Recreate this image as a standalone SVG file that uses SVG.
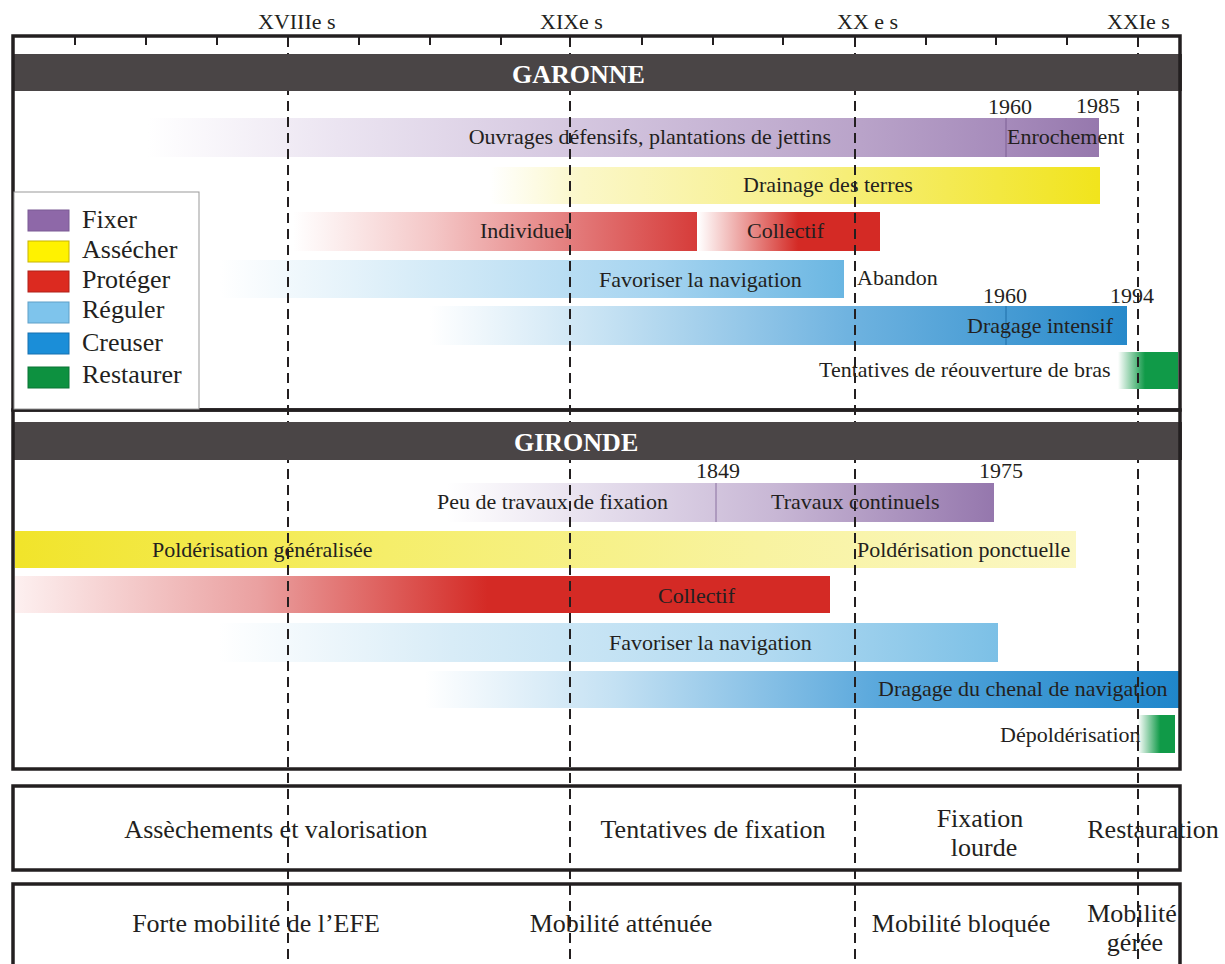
<svg xmlns="http://www.w3.org/2000/svg" width="1225" height="964" viewBox="0 0 1225 964">
<style>
text{font-family:"Liberation Serif","Times New Roman",serif;fill:#231f20}
.t{font-size:22px}
.lg{font-size:26px}
.bt{font-size:26px;text-anchor:middle}
.hd{font-size:26px;font-weight:bold;fill:#ffffff}
.frame{fill:none;stroke:#231f20;stroke-width:3.5}
.hdr{fill:#4a4546}
.dash{stroke:#231f20;stroke-width:2;stroke-dasharray:10 6;fill:none}
.tick{stroke:#231f20;stroke-width:2}
.div{stroke-width:1}
</style>
<defs>
<linearGradient id="gFix1"><stop offset="0" stop-color="#ffffff"/><stop offset="0.2" stop-color="#ebe4f1"/><stop offset="0.5" stop-color="#d0c1dc"/><stop offset="0.75" stop-color="#b9a3c9"/><stop offset="0.9" stop-color="#a68bbb"/><stop offset="1" stop-color="#9678ad"/></linearGradient>
<linearGradient id="gAss1"><stop offset="0" stop-color="#ffffff"/><stop offset="0.15" stop-color="#fbf7c8"/><stop offset="0.5" stop-color="#f7f08a"/><stop offset="1" stop-color="#f1e41c"/></linearGradient>
<linearGradient id="gInd"><stop offset="0" stop-color="#ffffff"/><stop offset="0.35" stop-color="#f4c6c6"/><stop offset="0.7" stop-color="#e37a7a"/><stop offset="1" stop-color="#d63c3a"/></linearGradient>
<linearGradient id="gCol1"><stop offset="0" stop-color="#ffffff"/><stop offset="0.55" stop-color="#d42a25"/><stop offset="1" stop-color="#d42a25"/></linearGradient>
<linearGradient id="gReg1"><stop offset="0" stop-color="#ffffff"/><stop offset="0.3" stop-color="#d9edf8"/><stop offset="0.7" stop-color="#a6d4f0"/><stop offset="1" stop-color="#6ab6e2"/></linearGradient>
<linearGradient id="gCre1"><stop offset="0" stop-color="#ffffff"/><stop offset="0.25" stop-color="#c6e2f3"/><stop offset="0.6" stop-color="#6fb3e0"/><stop offset="1" stop-color="#2789ca"/></linearGradient>
<linearGradient id="gRes1"><stop offset="0" stop-color="#ffffff"/><stop offset="0.45" stop-color="#109a48"/><stop offset="1" stop-color="#109a48"/></linearGradient>
<linearGradient id="gFix2"><stop offset="0" stop-color="#ffffff"/><stop offset="0.3" stop-color="#e3dbeb"/><stop offset="0.6" stop-color="#c8b7d5"/><stop offset="1" stop-color="#9577ad"/></linearGradient>
<linearGradient id="gAss2"><stop offset="0" stop-color="#f1e42a"/><stop offset="0.35" stop-color="#f5ee6a"/><stop offset="0.7" stop-color="#f8f3a0"/><stop offset="1" stop-color="#fbf7c4"/></linearGradient>
<linearGradient id="gCol2"><stop offset="0" stop-color="#fdf0f0"/><stop offset="0.3" stop-color="#eaa0a0"/><stop offset="0.58" stop-color="#d42a25"/><stop offset="1" stop-color="#d42a25"/></linearGradient>
<linearGradient id="gReg2"><stop offset="0" stop-color="#ffffff"/><stop offset="0.3" stop-color="#d8ecf7"/><stop offset="0.7" stop-color="#b2daf1"/><stop offset="1" stop-color="#7cc0e6"/></linearGradient>
<linearGradient id="gCre2"><stop offset="0" stop-color="#ffffff"/><stop offset="0.25" stop-color="#c4e1f3"/><stop offset="0.6" stop-color="#5aa8dc"/><stop offset="1" stop-color="#1f86cb"/></linearGradient>
<linearGradient id="gRes2"><stop offset="0" stop-color="#ffffff"/><stop offset="0.6" stop-color="#109a48"/><stop offset="1" stop-color="#109a48"/></linearGradient>
</defs>
<rect x="0" y="0" width="1225" height="964" fill="#ffffff"/>

<g id="century-labels" class="t">
<text x="258" y="29">XVIIIe s</text>
<text x="540" y="29">XIXe s</text>
<text x="837" y="29">XX e s</text>
<text x="1107" y="29">XXIe s</text>
</g>

<g id="garonne-bars">
<rect x="148" y="118" width="951" height="39" fill="url(#gFix1)"/>
<line class="div" x1="1006" y1="118" x2="1006" y2="157" stroke="#7d5f94"/>
<rect x="490" y="167" width="610" height="37" fill="url(#gAss1)"/>
<rect x="293" y="212" width="404" height="39" fill="url(#gInd)"/>
<rect x="698" y="212" width="182" height="39" fill="url(#gCol1)"/>
<rect x="220" y="260" width="624" height="38" fill="url(#gReg1)"/>
<rect x="430" y="306" width="697" height="39" fill="url(#gCre1)"/>
<line class="div" x1="1006" y1="306" x2="1006" y2="345" stroke="#1f6fa8"/>
<rect x="1118" y="352" width="60" height="37" fill="url(#gRes1)"/>
</g>

<g id="gironde-bars">
<rect x="447" y="483" width="547" height="39" fill="url(#gFix2)"/>
<line class="div" x1="716" y1="483" x2="716" y2="522" stroke="#8a70a0"/>
<rect x="15" y="531" width="1061" height="37" fill="url(#gAss2)"/>
<rect x="15" y="576" width="815" height="37" fill="url(#gCol2)"/>
<rect x="218" y="623" width="780" height="39" fill="url(#gReg2)"/>
<rect x="425" y="671" width="754" height="37" fill="url(#gCre2)"/>
<rect x="1138" y="715" width="37" height="38" fill="url(#gRes2)"/>
</g>

<g id="connectors">
<line class="dash" x1="288" y1="37" x2="288" y2="964"/>
<line class="dash" x1="570" y1="37" x2="570" y2="964"/>
<line class="dash" x1="855" y1="37" x2="855" y2="964"/>
<line class="dash" x1="1138" y1="37" x2="1138" y2="964"/>
<g class="tick">
<line x1="75" y1="37" x2="75" y2="45"/><line x1="146" y1="37" x2="146" y2="45"/><line x1="217" y1="37" x2="217" y2="45"/>
<line x1="359" y1="37" x2="359" y2="45"/><line x1="430" y1="37" x2="430" y2="45"/><line x1="501" y1="37" x2="501" y2="45"/>
<line x1="642" y1="37" x2="642" y2="45"/><line x1="713" y1="37" x2="713" y2="45"/><line x1="783" y1="37" x2="783" y2="45"/>
<line x1="926" y1="37" x2="926" y2="45"/><line x1="996" y1="37" x2="996" y2="45"/><line x1="1067" y1="37" x2="1067" y2="45"/>
</g>
</g>

<g id="garonne">
<rect class="hdr" x="14" y="54" width="1168" height="37"/>
<text class="hd" x="512" y="83">GARONNE</text>
<rect class="frame" x="13" y="36" width="1167" height="374"/>
</g>

<g id="gironde">
<rect class="hdr" x="14" y="422" width="1168" height="38"/>
<text class="hd" x="514" y="451">GIRONDE</text>
<rect class="frame" x="13" y="410" width="1167" height="359"/>
</g>

<g id="legend">
<rect x="14" y="192" width="185" height="217" fill="#ffffff" stroke="#999999" stroke-width="1"/>
<rect x="28" y="210" width="41" height="21" fill="#8e68a8" stroke="#7a5a94" stroke-width="1"/>
<rect x="28" y="241" width="41" height="21" fill="#fff200" stroke="#c8b400" stroke-width="1"/>
<rect x="28" y="271" width="41" height="21" fill="#dc2a20" stroke="#b02018" stroke-width="1"/>
<rect x="28" y="302" width="41" height="21" fill="#7ec4ec" stroke="#5ea0c8" stroke-width="1"/>
<rect x="28" y="333" width="41" height="21" fill="#1b8ed8" stroke="#1670b0" stroke-width="1"/>
<rect x="28" y="367" width="41" height="21" fill="#0d9140" stroke="#0a7434" stroke-width="1"/>
<g class="lg">
<text x="82" y="228">Fixer</text>
<text x="82" y="258">Assécher</text>
<text x="82" y="288">Protéger</text>
<text x="82" y="318">Réguler</text>
<text x="82" y="351">Creuser</text>
<text x="82" y="383">Restaurer</text>
</g>
</g>

<g id="garonne-labels" class="t">
<text x="988" y="114">1960</text>
<text x="1076" y="113">1985</text>
<text x="831" y="144" text-anchor="end">Ouvrages défensifs, plantations de jettins</text>
<text x="1007" y="144">Enrochement</text>
<text x="743" y="192">Drainage des terres</text>
<text x="480" y="238">Individuel</text>
<text x="747" y="238">Collectif</text>
<text x="599" y="287">Favoriser la navigation</text>
<text x="857" y="285">Abandon</text>
<text x="983" y="303">1960</text>
<text x="1110" y="303">1994</text>
<text x="967" y="333">Dragage intensif</text>
<text x="819" y="377">Tentatives de réouverture de bras</text>
</g>

<g id="gironde-labels" class="t">
<text x="696" y="478">1849</text>
<text x="979" y="478">1975</text>
<text x="437" y="509">Peu de travaux de fixation</text>
<text x="771" y="509">Travaux continuels</text>
<text x="152" y="557">Poldérisation généralisée</text>
<text x="857" y="557">Poldérisation ponctuelle</text>
<text x="658" y="603">Collectif</text>
<text x="609" y="650">Favoriser la navigation</text>
<text x="878" y="696">Dragage du chenal de navigation</text>
<text x="1000" y="742">Dépoldérisation</text>
</g>

<g id="phases">
<rect class="frame" x="13" y="786" width="1167" height="84"/>
<text class="bt" x="276" y="838">Assèchements et valorisation</text>
<text class="bt" x="713" y="838">Tentatives de fixation</text>
<text class="bt" x="980" y="827">Fixation</text>
<text class="bt" x="984" y="856">lourde</text>
<text class="bt" x="1153" y="838">Restauration</text>
</g>

<g id="mobility">
<rect class="frame" x="13" y="884" width="1167" height="100"/>
<text class="bt" x="256" y="932">Forte mobilité de l’EFE</text>
<text class="bt" x="621" y="932">Mobilité atténuée</text>
<text class="bt" x="961" y="932">Mobilité bloquée</text>
<text class="bt" x="1132" y="922">Mobilité</text>
<text class="bt" x="1135" y="951">gérée</text>
</g>
</svg>
